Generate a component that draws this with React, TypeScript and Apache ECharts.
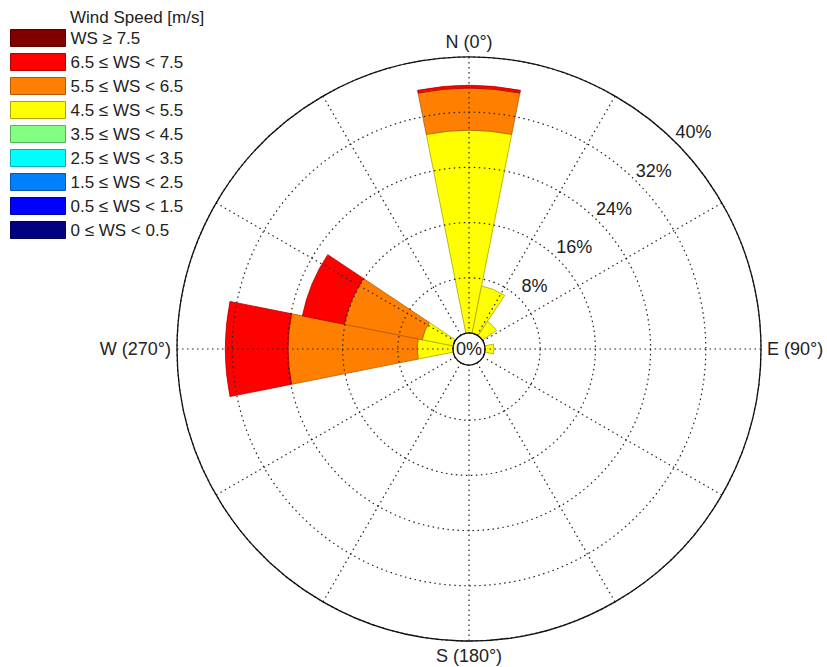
import React, { useEffect, useRef } from "react";
import * as echarts from "echarts";

// 16 compass sectors (clockwise from North)
const directions = ["N", "NNE", "NE", "ENE", "E", "ESE", "SE", "SSE", "S", "SSW", "SW", "WSW", "W", "WNW", "NW", "NNW"];

// wind speed classes (inner to outer)
const speedBins = [
  "0 ≤ WS < 0.5",
  "0.5 ≤ WS < 1.5",
  "1.5 ≤ WS < 2.5",
  "2.5 ≤ WS < 3.5",
  "3.5 ≤ WS < 4.5",
  "4.5 ≤ WS < 5.5",
  "5.5 ≤ WS < 6.5",
  "6.5 ≤ WS < 7.5",
  "WS ≥ 7.5",
];
const binColors = ["#000080", "#0000ff", "#0080ff", "#00ffff", "#80ff80", "#ffff00", "#ff8000", "#ff0000", "#800000"];
const binBorders = ["#00005a", "#0000b3", "#005ab3", "#00b3b3", "#5ab35a", "#a8a800", "#b35a00", "#b30000", "#5a0000"];

// frequency [%] per direction for each speed class
const ws00 = [0, 0, 0, 0, 0, 0, 0, 0, 0, 0, 0, 0, 0, 0, 0, 0];
const ws05 = [0, 0, 0, 0, 0, 0, 0, 0, 0, 0, 0, 0, 0, 0, 0, 0];
const ws15 = [0, 0, 0, 0, 0, 0, 0, 0, 0, 0, 0, 0, 0, 0, 0, 0];
const ws25 = [0, 0, 0, 0, 0, 0, 0, 0, 0, 0, 0, 0, 0, 0, 0, 0];
const ws35 = [0, 0, 0, 0, 0, 0, 0, 0, 0, 0, 0, 0, 0, 0, 0, 0];
const ws45 = [29.4, 7.0, 2.5, 0, 1.3, 0, 0, 0, 0, 0, 0, 0, 5.2, 4.6, 0, 0];
const ws55 = [6.1, 0, 0, 0, 0, 0, 0, 0, 0, 0, 0, 0, 18.7, 11.5, 0, 0];
const ws65 = [0.4, 0, 0, 0, 0, 0, 0, 0, 0, 0, 0, 0, 9.1, 6.2, 0, 0];
const ws75 = [0, 0, 0, 0, 0, 0, 0, 0, 0, 0, 0, 0, 0, 0, 0, 0];
const binValues = [ws00, ws05, ws15, ws25, ws35, ws45, ws55, ws65, ws75];

// radial scale [%]
const radiusMax = 40;
const radiusStep = 8;

// compass labels at angle ticks
const compassLabels: Record<number, string> = { 0: "N (0°)", 90: "E (90°)", 180: "S (180°)", 270: "W (270°)" };

const FONT = "'Liberation Sans', Arial, sans-serif";
const CENTER = [469, 349];
const dotted = { type: [1.5, 3.5] as any, color: "#222", width: 1.2 };

export default function App() {
  const ref = useRef<HTMLDivElement>(null);
  useEffect(() => {
    if (!ref.current) return;
    const chart = echarts.init(ref.current, undefined, { renderer: "svg" });
    const series = speedBins.map((name, i) => ({
      name,
      type: "bar",
      coordinateSystem: "polar",
      polarIndex: 0,
      stack: "ws",
      barCategoryGap: "0%",
      data: binValues[i].map((v) => (v === 0 ? null : v)),
      itemStyle: { color: binColors[i], borderColor: binBorders[i], borderWidth: 0.8 },
      emphasis: { disabled: true },
    }));
    chart.setOption({
      animation: false,
      backgroundColor: "#ffffff",
      textStyle: { fontFamily: FONT },
      title: {
        text: "Wind Speed [m/s]",
        left: 70,
        top: 9,
        padding: 0,
        textStyle: { fontSize: 17, fontWeight: "normal", color: "#222", fontFamily: FONT },
      },
      legend: {
        orient: "vertical",
        left: 10,
        top: 29,
        padding: 0,
        itemWidth: 55,
        itemHeight: 17,
        itemGap: 6,
        icon: "rect",
        data: speedBins.slice().reverse(),
        selectedMode: false,
        itemStyle: { borderWidth: 1 },
        textStyle: { fontSize: 17, color: "#222", lineHeight: 17, fontFamily: FONT },
      },
      polar: [
        { center: CENTER, radius: [16, 292] },
        { center: CENTER, radius: [16, 292] },
        { center: CENTER, radius: [36, 312] },
        { center: CENTER, radius: [0, 50] },
      ],
      angleAxis: [
        {
          polarIndex: 0,
          type: "category",
          data: directions,
          startAngle: 101.25,
          clockwise: true,
          boundaryGap: true,
          axisLine: { show: false },
          axisTick: { show: false },
          axisLabel: { show: false },
          splitLine: { show: false },
        },
        {
          polarIndex: 1,
          type: "value",
          min: 0,
          max: 360,
          interval: 30,
          startAngle: 90,
          clockwise: true,
          z: 10,
          axisLine: { show: true, lineStyle: { color: "#111", width: 1.3 } },
          axisTick: { show: false },
          axisLabel: {
            show: true,
            margin: 6,
            fontSize: 18,
            color: "#222",
            fontFamily: FONT,
            formatter: (v: number) => compassLabels[v] ?? "",
          },
          splitLine: { show: true, lineStyle: dotted },
        },
        { polarIndex: 2, type: "value", min: 0, max: 360, startAngle: 44, show: false },
        { polarIndex: 3, type: "value", min: 0, max: 360, show: false },
      ],
      radiusAxis: [
        { polarIndex: 0, type: "value", min: 0, max: radiusMax, show: false },
        {
          polarIndex: 1,
          type: "value",
          min: 0,
          max: radiusMax,
          interval: radiusStep,
          z: 10,
          axisLine: { show: false },
          axisTick: { show: false },
          axisLabel: { show: false },
          splitLine: { show: true, lineStyle: dotted },
        },
        {
          polarIndex: 2,
          type: "value",
          min: 0,
          max: radiusMax,
          interval: radiusStep,
          z: 10,
          axisLine: { show: false },
          axisTick: { show: false },
          splitLine: { show: false },
          axisLabel: {
            show: true,
            showMinLabel: false,
            formatter: "{value}%",
            align: "center",
            verticalAlign: "middle",
            margin: 0,
            rotate: 0,
            fontSize: 18,
            color: "#222",
            fontFamily: FONT,
          },
        },
        {
          polarIndex: 3,
          type: "value",
          min: 0,
          max: 1,
          interval: 1,
          z: 10,
          axisLine: { show: false },
          axisTick: { show: false },
          splitLine: { show: false },
          axisLabel: {
            show: true,
            showMaxLabel: false,
            formatter: "{value}%",
            align: "center",
            verticalAlign: "middle",
            margin: 0,
            rotate: 0,
            fontSize: 18,
            color: "#222",
            fontFamily: FONT,
          },
        },
      ],
      series,
    });
    return () => chart.dispose();
  }, []);
  return <div ref={ref} style={{ position: "fixed", left: 0, top: 0, width: 827, height: 667 }} />;
}
